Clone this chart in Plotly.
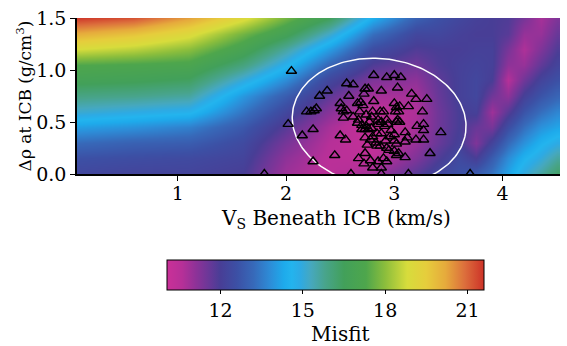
import numpy as np
import plotly.graph_objects as go

# ---- misfit field (grid of estimated values) ----
vs_grid = [0.1, 0.6, 1.1, 1.6, 2.0, 2.4, 2.8, 3.2, 3.4, 3.6, 3.75, 3.9, 4.05, 4.2, 4.35, 4.5]
drho_grid = [0.0, 0.15, 0.3, 0.45, 0.6, 0.75, 0.9, 1.05, 1.2, 1.35, 1.5]
# one list per Vs column, values along drho_grid
misfit_cols = [
    [12.3, 12.6, 13.2, 14.1, 15.1, 15.9, 16.7, 17.3, 18.8, 20.1, 21.5],  # 0.1
    [12.2, 12.5, 13.0, 13.9, 14.9, 15.8, 16.6, 17.2, 18.5, 19.7, 21.2],  # 0.6
    [12.2, 12.4, 12.9, 13.6, 14.7, 15.6, 16.4, 17.1, 18.0, 19.0, 20.3],  # 1.1
    [12.0, 12.2, 12.4, 12.8, 13.4, 14.0, 15.0, 16.0, 16.9, 17.7, 19.0],  # 1.6
    [10.9, 11.1, 11.4, 11.8, 12.3, 12.9, 13.8, 14.7, 15.6, 16.7, 17.7],  # 2.0
    [10.5, 10.5, 10.6, 10.8, 11.2, 11.7, 12.3, 13.1, 14.1, 15.2, 16.5],  # 2.4
    [10.9, 10.4, 10.2, 10.1, 10.4, 10.8, 11.3, 11.9, 12.5, 13.3, 14.4],  # 2.8
    [11.8, 11.3, 11.0, 10.8, 10.7, 10.8, 11.1, 11.5, 11.9, 12.3, 13.0],  # 3.2
    [12.3, 11.9, 11.6, 11.5, 11.5, 11.6, 11.7, 11.9, 12.0, 12.3, 12.6],  # 3.4
    [12.6, 12.4, 12.1, 12.0, 12.0, 12.1, 12.1, 12.1, 12.0, 12.1, 12.3],  # 3.6
    [12.9, 12.0, 11.3, 11.6, 12.1, 12.3, 12.3, 12.2, 12.1, 12.0, 12.1],  # 3.75
    [13.4, 12.9, 12.2, 11.4, 10.9, 11.5, 12.0, 12.1, 12.1, 12.0, 12.0],  # 3.9
    [14.2, 13.8, 13.2, 12.5, 11.8, 11.1, 10.6, 11.1, 11.4, 11.8, 11.9],  # 4.05
    [15.0, 14.5, 13.9, 13.3, 12.7, 12.1, 11.5, 11.0, 10.7, 11.0, 11.4],  # 4.2
    [15.6, 15.0, 14.5, 13.9, 13.3, 12.7, 12.2, 11.7, 11.3, 11.0, 10.8],  # 4.35
    [16.3, 15.6, 14.9, 14.2, 13.7, 13.1, 12.6, 12.2, 11.9, 11.6, 11.3],  # 4.5
]

# ---- accepted models (triangles) ----
model_vs = [2.05, 2.02, 2.15, 2.25, 2.25, 2.19, 2.23, 2.26, 2.28, 2.31, 2.38,
            2.45, 2.50, 2.55, 2.56, 2.62, 2.58, 2.50, 2.51, 2.53, 2.56, 2.53,
            2.66, 2.69, 2.71, 2.68, 2.72, 2.73, 2.76, 2.81, 2.74, 2.80, 2.79,
            2.88, 2.81, 2.87, 2.90, 2.93, 3.00, 3.06, 3.03, 3.00, 3.02, 3.01, 3.04, 3.05,
            3.13, 3.16, 3.20, 3.30, 3.26,
            2.70, 2.74, 2.77, 2.79, 2.70, 2.73, 2.76,
            2.85, 2.88, 2.91, 2.94, 2.97,
            2.84, 2.88, 2.80,
            3.02, 3.05, 3.03,
            3.10, 3.12, 3.10, 3.20,
            3.21, 3.27, 3.27,
            3.43, 3.27,
            3.00, 3.02,
            2.75, 2.84, 2.87, 2.93,
            2.67, 2.72, 2.80, 2.88,
            3.00, 3.02, 3.10, 3.04,
            3.33,
            2.67, 2.62, 2.66,
            2.85, 2.93,
            2.73, 2.78, 2.83, 2.92, 2.96, 3.00,
            2.95, 2.90,
            2.73, 2.78, 2.85, 2.93,
            1.80, 2.60, 2.88, 3.13, 3.70]
model_drho = [0.99, 0.48, 0.37, 0.43, 0.12, 0.60, 0.60, 0.61, 0.63, 0.75, 0.80,
              0.18, 0.37, 0.33, 0.87, 0.86, 0.75, 0.68, 0.63, 0.60, 0.61, 0.54,
              0.68, 0.69, 0.66, 0.60, 0.77, 0.82, 0.82, 0.95, 0.57, 0.60, 0.55,
              0.80, 0.70, 0.60, 0.60, 0.93, 0.95, 0.93, 0.83, 0.68, 0.64, 0.60, 0.60, 0.65,
              0.65, 0.77, 0.72, 0.72, 0.60,
              0.47, 0.46, 0.50, 0.44, 0.43, 0.43, 0.43,
              0.48, 0.50, 0.46, 0.48, 0.42,
              0.39, 0.39, 0.36,
              0.50, 0.50, 0.52,
              0.40, 0.35, 0.31, 0.33,
              0.46, 0.48, 0.42,
              0.40, 0.33,
              0.32, 0.29,
              0.28, 0.27, 0.27, 0.25,
              0.15, 0.10, 0.06, 0.06,
              0.22, 0.18, 0.16, 0.20,
              0.20,
              0.52, 0.55, 0.49,
              0.52, 0.52,
              0.35, 0.33, 0.30, 0.32, 0.36, 0.38,
              0.23, 0.15,
              0.20, 0.13, 0.12, 0.12,
              0.0, 0.0, 0.0, 0.0, 0.0]

# ---- confidence ellipse parameters ----
ell_center = (2.86, 0.50)
ell_semi = (0.805, 0.61)
ell_angle_deg = -7.0

# ---- colour scale (misfit value -> colour) ----
cmin, cmax = 10.05, 21.6
cs_vals = [10.05, 10.6, 11.1, 11.6, 12.0, 12.6, 13.2, 13.8, 14.3, 14.6, 14.9,
           15.3, 15.8, 16.5, 17.3, 18.0, 18.8, 19.5, 20.2, 20.9, 21.6]
cs_cols = ['rgb(202,48,152)', 'rgb(182,48,152)', 'rgb(142,50,152)', 'rgb(104,56,152)',
           'rgb(72,62,150)', 'rgb(60,80,165)', 'rgb(55,105,185)', 'rgb(45,140,215)',
           'rgb(30,170,235)', 'rgb(35,180,238)', 'rgb(45,170,228)', 'rgb(70,168,190)',
           'rgb(72,164,140)', 'rgb(66,160,90)', 'rgb(78,166,76)', 'rgb(140,190,60)',
           'rgb(215,220,60)', 'rgb(230,205,60)', 'rgb(230,170,60)', 'rgb(220,110,60)',
           'rgb(205,50,40)']

colorscale = [[(v - cmin) / (cmax - cmin), c] for v, c in zip(cs_vals, cs_cols)]
z = np.array(misfit_cols).T.tolist()

FONT = 'DejaVu Serif'
TICK = 19

fig = go.Figure()
fig.add_trace(go.Heatmap(
    x=vs_grid, y=drho_grid, z=z, zsmooth='best',
    colorscale=colorscale, zmin=cmin, zmax=cmax,
    colorbar=dict(
        orientation='h', x=0.5145, xanchor='center', y=(174 - 262) / 160, yanchor='top',
        len=317, lenmode='pixels', thickness=30, thicknessmode='pixels',
        xpad=0, ypad=0,
        outlinewidth=1, outlinecolor='black',
        tickvals=[12, 15, 18, 21], ticks='outside', ticklen=4, tickcolor='black',
        tickfont=dict(family=FONT, size=TICK, color='black'),
    ),
    hoverinfo='skip',
))

t = np.linspace(0, 2 * np.pi, 200)
th = np.deg2rad(ell_angle_deg)
ex = ell_center[0] + ell_semi[0] * np.cos(t) * np.cos(th) - ell_semi[1] * np.sin(t) * np.sin(th)
ey = ell_center[1] + ell_semi[0] * np.cos(t) * np.sin(th) + ell_semi[1] * np.sin(t) * np.cos(th)
fig.add_trace(go.Scatter(x=ex, y=ey, mode='lines', line=dict(color='white', width=1.5),
                         showlegend=False, hoverinfo='skip'))

fig.add_trace(go.Scatter(
    x=model_vs, y=model_drho, mode='markers',
    marker=dict(symbol='triangle-up-open', size=9, color='black', line=dict(width=1.4, color='black')),
    showlegend=False,
))

# plot area spans 77..560 px horizontally, 14..174 px vertically
fig.add_annotation(text='V<sub>S</sub> Beneath ICB (km/s)', xref='paper', yref='paper',
                   x=(336 - 77) / 483, y=(174 - 220) / 160, xanchor='center', yanchor='middle',
                   showarrow=False, font=dict(family=FONT, size=20, color='black'))
fig.add_annotation(text='Misfit', xref='paper', yref='paper',
                   x=(340 - 77) / 483, y=(174 - 338) / 160, xanchor='center', yanchor='middle',
                   showarrow=False, font=dict(family=FONT, size=20, color='black'))

fig.update_layout(
    width=567, height=346,
    margin=dict(l=77, r=7, t=14, b=172),
    paper_bgcolor='white', plot_bgcolor='white',
    font=dict(family=FONT, size=TICK, color='black'),
    showlegend=False,
    xaxis=dict(range=[0.07, 4.53], tickvals=[1, 2, 3, 4], ticks='outside', ticklen=5,
               tickcolor='black', showline=True, linecolor='black', linewidth=1.5,
               showgrid=False, zeroline=False, ticklabelstandoff=-4,
               tickfont=dict(family=FONT, size=TICK)),
    yaxis=dict(range=[0, 1.5], tickvals=[0, 0.5, 1.0, 1.5], ticktext=['0.0', '0.5', '1.0', '1.5'],
               ticks='outside', ticklen=5, tickcolor='black', showline=True, linecolor='black',
               linewidth=1.5, showgrid=False, zeroline=False,
               tickfont=dict(family=FONT, size=TICK),
               title=dict(text='Δρ at ICB (g/cm<sup>3</sup>)', standoff=0,
                          font=dict(family=FONT, size=17))),
)

fig.write_html('out.html')
